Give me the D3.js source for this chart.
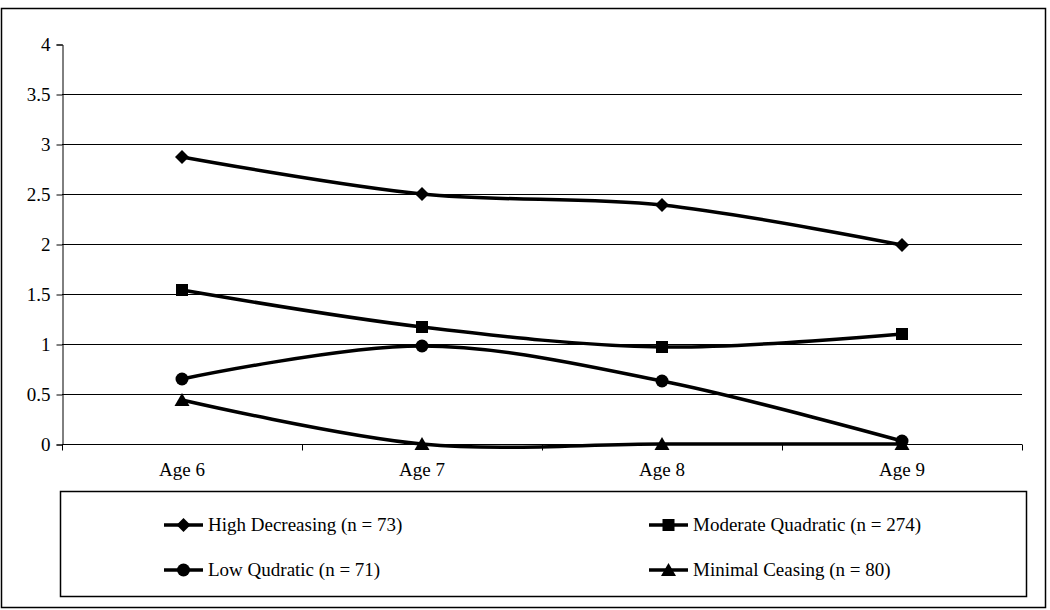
<!DOCTYPE html>
<html>
<head>
<meta charset="utf-8">
<script src="https://cdn.jsdelivr.net/npm/d3@7"></script>
<style>
  body { margin: 0; background: #fff; }
  text { font-family: "Liberation Serif", "Times New Roman", serif; fill: #000; }
</style>
</head>
<body>
<div id="chart"></div>
<script>
// data
var ages = ["Age 6", "Age 7", "Age 8", "Age 9"];
var yTicks = [0, 0.5, 1, 1.5, 2, 2.5, 3, 3.5, 4];
var seriesNames = ["High Decreasing (n = 73)", "Moderate Quadratic (n = 274)",
                   "Low Qudratic (n = 71)", "Minimal Ceasing (n = 80)"];
var highDecreasing = [2.87, 2.50, 2.39, 1.99];
var moderateQuadratic = [1.54, 1.17, 0.97, 1.10];
var lowQudratic = [0.65, 0.98, 0.63, 0.03];
var minimalCeasing = [0.44, 0.00, 0.00, 0.00];
var markerTypes = ["diamond", "square", "circle", "triangle"];

var series = [highDecreasing, moderateQuadratic, lowQudratic, minimalCeasing].map(function(v, i) {
    return {name: seriesNames[i], values: v, marker: markerTypes[i]};
});

var width = 1050, height = 610;
var plot = {left: 62, right: 1022, top: 44, bottom: 444};

var svg = d3.select("#chart").append("svg")
    .attr("width", width)
    .attr("height", height);

// outer frame
svg.append("rect")
    .attr("x", 1.5).attr("y", 8.5)
    .attr("width", 1044).attr("height", 599)
    .attr("fill", "none").attr("stroke", "#000").attr("stroke-width", 1.5);

var x = d3.scaleBand().domain(ages).range([plot.left, plot.right]);
var y = d3.scaleLinear().domain([0, 4]).range([plot.bottom, plot.top]);

// gridlines
svg.append("g").selectAll("line")
    .data(yTicks.filter(function(d) { return d > 0 && d < 4; }))
    .enter().append("line")
    .attr("x1", plot.left).attr("x2", plot.right)
    .attr("y1", function(d) { return Math.round(y(d)) + 0.5; })
    .attr("y2", function(d) { return Math.round(y(d)) + 0.5; })
    .attr("stroke", "#000").attr("stroke-width", 1);

// y axis
var yAxis = svg.append("g")
    .attr("transform", "translate(" + (plot.left + 0.5) + ",0.5)")
    .call(d3.axisLeft(y).tickValues(yTicks).tickSize(6).tickPadding(6)
        .tickFormat(function(d) { return String(d); }));
yAxis.select(".domain").attr("stroke", "#000");
yAxis.selectAll(".tick line").attr("stroke", "#000");
yAxis.selectAll("text").style("font-size", "19px").attr("font-family", null);

// x axis with ticks at category boundaries
var xAxis = svg.append("g")
    .attr("transform", "translate(0," + (plot.bottom + 0.5) + ")");
xAxis.append("line")
    .attr("x1", plot.left).attr("x2", plot.right)
    .attr("stroke", "#000");
xAxis.selectAll(".bt")
    .data(ages.map(function(a) { return x(a); }).concat([plot.right]))
    .enter().append("line")
    .attr("x1", function(d) { return Math.round(d) + 0.5; })
    .attr("x2", function(d) { return Math.round(d) + 0.5; })
    .attr("y1", 0).attr("y2", 6)
    .attr("stroke", "#000");
xAxis.selectAll("text")
    .data(ages)
    .enter().append("text")
    .attr("x", function(d) { return x(d) + x.bandwidth() / 2; })
    .attr("y", 31)
    .attr("text-anchor", "middle")
    .style("font-size", "19px")
    .text(function(d) { return d; });

var line = d3.line()
    .x(function(d, i) { return x(ages[i]) + x.bandwidth() / 2; })
    .y(function(d) { return y(d); })
    .curve(d3.curveCardinal.tension(0));

function drawMarker(g, type, cx, cy) {
    if (type === "diamond") {
        g.append("path").attr("d", "M" + cx + "," + (cy - 7) + "L" + (cx + 7) + "," + cy +
            "L" + cx + "," + (cy + 7) + "L" + (cx - 7) + "," + cy + "Z").attr("fill", "#000");
    } else if (type === "square") {
        g.append("rect").attr("x", cx - 6).attr("y", cy - 6)
            .attr("width", 12).attr("height", 12).attr("fill", "#000");
    } else if (type === "circle") {
        g.append("circle").attr("cx", cx).attr("cy", cy).attr("r", 6.5).attr("fill", "#000");
    } else {
        g.append("path").attr("d", "M" + cx + "," + (cy - 7) + "L" + (cx + 7.5) + "," + (cy + 6) +
            "L" + (cx - 7.5) + "," + (cy + 6) + "Z").attr("fill", "#000");
    }
}

var lines = svg.append("g");
series.forEach(function(s) {
    lines.append("path")
        .attr("d", line(s.values))
        .attr("fill", "none")
        .attr("stroke", "#000")
        .attr("stroke-width", 3.5);
});
series.forEach(function(s) {
    var g = lines.append("g");
    s.values.forEach(function(v, i) {
        drawMarker(g, s.marker, x(ages[i]) + x.bandwidth() / 2, y(v));
    });
});

// legend
svg.append("rect")
    .attr("x", 60.5).attr("y", 491.5)
    .attr("width", 966).attr("height", 105)
    .attr("fill", "none").attr("stroke", "#000").attr("stroke-width", 1.5);

var legendPos = [[164, 525], [649, 525], [164, 570], [649, 570]];
series.forEach(function(s, i) {
    var lx = legendPos[i][0], ly = legendPos[i][1];
    var g = svg.append("g");
    g.append("line")
        .attr("x1", lx).attr("x2", lx + 39)
        .attr("y1", ly).attr("y2", ly)
        .attr("stroke", "#000").attr("stroke-width", 3.5);
    drawMarker(g, s.marker, lx + 19.5, ly);
    g.append("text")
        .attr("x", lx + 44).attr("y", ly + 6)
        .style("font-size", "19px")
        .text(s.name);
});
</script>
</body>
</html>
